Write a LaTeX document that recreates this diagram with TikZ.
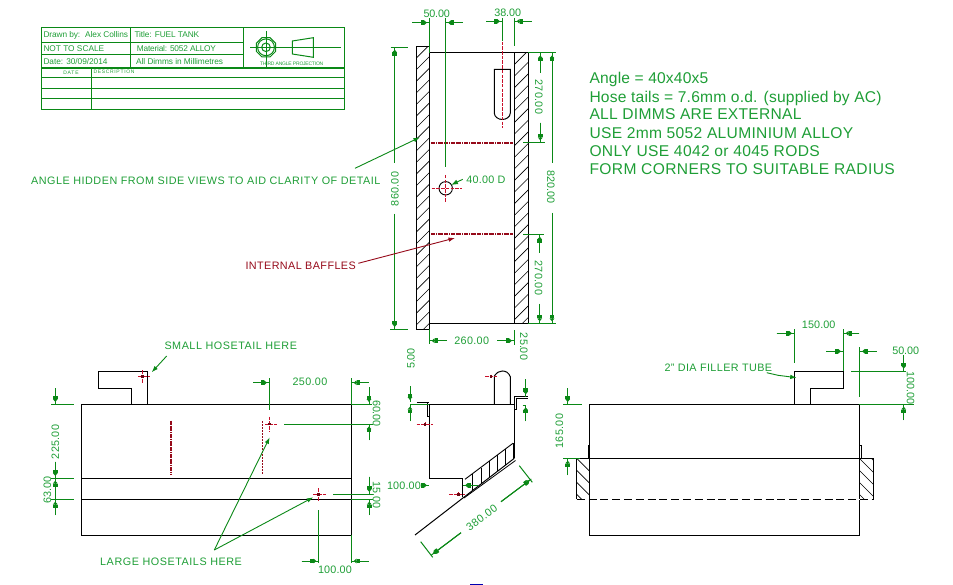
\documentclass[tikz,border=0pt]{standalone}
\usepackage{fontspec}
\usepackage{graphicx}
\usetikzlibrary{arrows.meta}
\setmainfont{Liberation Sans}
\definecolor{dimline}{HTML}{0A8816}
\definecolor{dimtext}{HTML}{1E9E36}
\definecolor{baffle}{HTML}{960A1A}
\definecolor{redline}{HTML}{C8102A}
\newlength\fitw
\ExplSyntaxOn
\NewDocumentCommand\fittext{mmm}{
  \fontsize{#2}{#2}\selectfont
  \settowidth\fitw{#3}
  \addfontfeature{LetterSpace=\fp_eval:n{round((#1-\fitw)/(\tl_count:n{#3}*#2)*100,2)}}
  #3
}
\ExplSyntaxOff
\tikzset{
  obj/.style={draw=black,line width=1pt,line cap=butt,line join=miter},
  dimc/.style={draw=dimline,line width=1pt},
  grid/.style={draw=dimline,line width=1pt},
  hatchline/.style={draw=black,line width=0.6pt},
  lead/.style={draw=dimline,line width=0.9pt,-{Latex[length=6.5pt,width=4.5pt]}},
  redc/.style={draw=redline,line width=0.9pt,dash pattern=on 3.5pt off 1.2pt},
  baff/.style={draw=baffle,line width=1.7pt,dash pattern=on 4pt off 0.8pt on 1pt off 0.8pt},
  txt/.style={inner sep=0pt,text=dimtext},
}
% dimension segment with the head set a little off the tip
\newcommand\dimseg[4]{%
  \draw[dimc] (#1,#2) -- (#3,#4);
  \draw[dimc,-{Rectangle[length=3.2pt,width=4.6pt]Triangle[length=2.8pt,width=4.6pt]},shorten >=2.4pt] (#1,#2) -- (#3,#4);}
% text: options, name, x, y, width, size, text
\newcommand\tx[7][]{%
  \pgfmathsetmacro\capht{0.72*#6}%
  \node[txt,text height=\capht pt,text depth=0pt,#1] (#2) at (#3,#4) {\fittext{#5}{#6}{#7}};}
\newcommand\crossmark[6]{%
  \draw[redc] (#3,#2) -- (#4,#2);
  \draw[redc] (#1,#5) -- (#1,#6);
  \fill[baffle!70!black] (#1-1.4,#2-1.4) rectangle (#1+1.4,#2+1.4);}
\newcommand\hatchup[6]{%
  \begin{scope}
  \clip (#1,#2) rectangle (#3,#4);
  \foreach \k in {0,...,#6}{\draw[hatchline] ({#1},{#2+\k*#5}) -- ({#3},{#2+\k*#5-(#3-#1)});}
  \end{scope}}
\newcommand\hatchdown[6]{%
  \begin{scope}
  \clip (#1,#2) rectangle (#3,#4);
  \foreach \k in {-2,...,#6}{\draw[hatchline] ({#1},{#2+\k*#5}) -- ({#3},{#2+\k*#5+(#3-#1)});}
  \end{scope}}
\begin{document}
\begin{tikzpicture}[x=1pt,y=-1pt]
\useasboundingbox (0,0) rectangle (953,585);

% ---------- title block
\draw[grid] (41.7,27.7) rectangle (344.3,109.3);
\draw[grid] (130.3,27.7) -- (130.3,67.3);
\draw[grid] (243.3,27.7) -- (243.3,67.3);
\draw[grid] (41.7,42.3) -- (243.3,42.3);
\draw[grid] (41.7,54.3) -- (243.3,54.3);
\draw[grid,line width=1.6pt] (41.7,68) -- (344.3,68);
\draw[grid] (41.7,77.3) -- (344.3,77.3);
\draw[grid] (41.7,88.3) -- (344.3,88.3);
\draw[grid] (41.7,98.7) -- (344.3,98.7);
\draw[grid] (91.3,68) -- (91.3,109.3);
\draw[grid] (250,47.3) -- (340.7,47.3);
\draw[grid] (266,31) -- (266,67);
\draw[grid] (266,47.3) circle (4.3);
\draw[grid] (266,47.3) circle (8.4);
\draw[grid] (256.3,43.3) -- (262,37.6) -- (270,37.6) -- (275.7,43.3) -- (275.7,51.3) -- (270,57) -- (262,57) -- (256.3,51.3) -- cycle;
\draw[grid] (292.3,41) -- (313.3,37.7) -- (313.3,57.3) -- (292.3,54) -- cycle;
\tx[anchor=west]{drawnby}{43.3}{34.3}{36.7}{8.3}{Drawn by:}
\tx[anchor=west]{drawnname}{85}{34.3}{42.7}{8.3}{Alex Collins}
\tx[anchor=west]{title}{134.3}{34.7}{64.7}{8.3}{Title:  FUEL TANK}
\tx[anchor=west]{scale}{43.3}{48.7}{60.7}{8.3}{NOT TO SCALE}
\tx[anchor=west]{material}{136.7}{48.7}{79}{8.3}{Material: 5052 ALLOY}
\tx[anchor=west]{date}{43.3}{62}{64}{8.3}{Date:  30/09/2014}
\tx[anchor=west]{dimmsin}{136}{62}{86.7}{8.3}{All  Dimms in Millimetres}
\tx{projection}{291.7}{64}{63}{5}{THIRD ANGLE PROJECTION}
\tx{datehead}{71}{72.3}{16}{5}{DATE}
\tx[anchor=west]{deschead}{93.3}{71.7}{41.7}{5}{DESCRIPTION}

% ---------- notes
\tx[anchor=west]{n1}{589.3}{77.7}{119}{15.6}{Angle = 40x40x5}
\tx[anchor=west]{n2}{589.3}{96.7}{292.3}{15.6}{Hose tails = 7.6mm o.d. (supplied by AC)}
\tx[anchor=west]{n3}{589.3}{114.3}{212.3}{15.6}{ALL DIMMS ARE EXTERNAL}
\tx[anchor=west]{n4}{589.3}{132.7}{264}{15.6}{USE 2mm 5052 ALUMINIUM ALLOY}
\tx[anchor=west]{n5}{589.3}{150.7}{230.7}{15.6}{ONLY USE 4042 or 4045 RODS}
\tx[anchor=west]{n6}{589.3}{169.3}{305.7}{15.6}{FORM CORNERS TO SUITABLE RADIUS}

% ---------- plan view
\hatchup{416.5}{46.3}{429.3}{329.3}{11.6}{27}
\hatchup{514.3}{53}{528.3}{323.7}{11.6}{26}
\draw[obj] (416.5,46.3) rectangle (429.3,329.3);
\draw[obj] (514.3,53) rectangle (528.3,323.7);
\draw[obj] (429.3,53) -- (514.3,53);
\draw[obj] (429.3,323.7) -- (514.3,323.7);
\draw[obj] (494.3,113) -- (494.3,69.3) -- (510.3,69.3) -- (510.3,113)
  .. controls (510.3,117) and (506,119.5) .. (502.3,119.5)
  .. controls (498.5,119.5) and (494.3,117) .. (494.3,113);
\draw[redc] (502.3,41.7) -- (502.3,128);
\draw[baff] (431,142.7) -- (513,142.7);
\draw[baff] (431,233.7) -- (513,233.7);
\draw[draw=black,line width=0.9pt] (445.7,188.3) circle (6.7);
\draw[redc] (431.7,188.3) -- (461.7,188.3);
\draw[redc] (445.7,175) -- (445.7,203);

% plan dimensions
\draw[dimc] (429.3,18) -- (429.3,53);
\draw[dimc] (445.7,18) -- (445.7,166.7);
\dimseg{412}{22.7}{429.3}{22.7}
\dimseg{462.7}{22.7}{445.7}{22.7}
\tx{d50a}{436.7}{14}{26}{10.8}{50.00}
\draw[dimc] (502.3,18) -- (502.3,41);
\draw[dimc] (514.3,18) -- (514.3,46);
\dimseg{486}{21.3}{502.3}{21.3}
\dimseg{531.7}{21.3}{514.3}{21.3}
\tx{d38}{507.7}{13}{26.7}{10.8}{38.00}
\draw[dimc] (390.7,47.3) -- (407.7,47.3);
\draw[dimc] (390,329.3) -- (408,329.3);
\dimseg{394.7}{163}{394.7}{47.3}
\dimseg{394.7}{214}{394.7}{329.3}
\tx[rotate=90]{d860}{394.7}{189}{34.3}{10.8}{860.00}
\draw[dimc] (528.3,53) -- (555.5,53);
\draw[dimc] (523.3,142.7) -- (545,142.7);
\dimseg{540.3}{72.7}{540.3}{53}
\dimseg{540.3}{122.7}{540.3}{142.7}
\tx[rotate=-90]{d270a}{539}{96.7}{35}{10.8}{270.00}
\dimseg{552}{163}{552}{53}
\dimseg{552}{213}{552}{323.7}
\tx[rotate=-90]{d820}{551}{187}{33}{10.8}{820.00}
\draw[dimc] (523.3,234.3) -- (544,234.3);
\draw[dimc] (528.3,323.7) -- (555.5,323.7);
\dimseg{539.7}{253}{539.7}{234.3}
\dimseg{539.7}{304}{539.7}{323.7}
\tx[rotate=-90]{d270b}{538.7}{277.7}{35}{10.8}{270.00}
\draw[dimc] (429.3,329.3) -- (429.3,344);
\draw[dimc] (514.3,330) -- (514.3,345);
\dimseg{446.7}{340.7}{429.3}{340.7}
\dimseg{497.3}{340.7}{514.3}{340.7}
\tx{d260}{471.7}{340.7}{35}{10.8}{260.00}
\tx[rotate=-90]{d25}{524}{346.5}{27}{10.8}{25.00}
\tx{d40}{486}{180}{39.3}{10.8}{40.00 D}
\draw[lead,-{Latex[length=7pt,width=5pt]}] (462.7,179.3) -- (451,185);

% leaders to plan
\tx[anchor=west]{angle}{31}{181}{349.7}{10.8}{ANGLE HIDDEN FROM SIDE VIEWS TO AID CLARITY OF DETAIL}
\draw[lead] (355,168.3) -- (420,137.3);
\tx[anchor=west,text=baffle]{intern}{245.3}{266}{110.7}{10.8}{INTERNAL BAFFLES}
\draw[draw=baffle,line width=0.9pt,-{Latex[length=6.5pt,width=4.5pt]}] (358.3,263.3) -- (455,238);

% ---------- front view
\draw[obj] (81.3,404.3) rectangle (351.3,535.3);
\draw[obj] (81.3,478.3) -- (351.3,478.3);
\draw[obj] (81.3,499.3) -- (351.3,499.3);
\draw[obj] (131.3,404.3) -- (131.3,388.3) -- (98.3,388.3) -- (98.3,371.3) -- (147.7,371.3) -- (147.7,404.3);
\crossmark{142.7}{376.7}{138.3}{150}{370}{384}
\draw[baff] (170.7,420.7) -- (170.7,475);
\crossmark{269.3}{424}{265}{277.3}{416.7}{431.7}
\draw[draw=baffle,line width=0.8pt,dash pattern=on 2pt off 1pt] (262.3,421) -- (262.3,475);
\crossmark{318.7}{494.3}{313.3}{326}{488}{501.7}

\tx[anchor=west]{small}{164.3}{346}{133}{10.8}{SMALL HOSETAIL HERE}
\draw[lead] (166.7,356) -- (151.7,372.3);
\tx[anchor=west]{large}{100}{561.7}{142.3}{10.8}{LARGE HOSETAILS HERE}
\coordinate (apex) at (214.3,550);
\draw[lead] (apex) -- (269.7,437.3);
\draw[lead] (apex) -- (313.3,497.3);

% front dimensions
\draw[dimc] (51,404.3) -- (74,404.3);
\draw[dimc] (51,478.3) -- (74,478.3);
\draw[dimc] (51,499.3) -- (74,499.3);
\dimseg{55.3}{388.3}{55.3}{404.3}
\dimseg{55.3}{461.7}{55.3}{478.3}
\dimseg{55.3}{490}{55.3}{478.3}
\dimseg{55.3}{515}{55.3}{499.3}
\draw[dimc] (55.3,490) -- (55.3,499.3);
\tx[rotate=90]{d225}{55.3}{442}{34.3}{10.8}{225.00}
\tx[rotate=90]{d63}{47.3}{490}{27}{10.8}{63.00}
\draw[dimc] (269.3,378.3) -- (269.3,410);
\draw[dimc] (351.3,378.3) -- (351.3,404.3);
\dimseg{253.3}{382.7}{269.3}{382.7}
\dimseg{368.7}{382.7}{351.3}{382.7}
\tx{d250}{310}{382}{35}{10.8}{250.00}
\draw[dimc] (351.3,404.3) -- (371.7,404.3);
\draw[dimc] (284,424) -- (373,424);
\dimseg{369}{387.3}{369}{404.3}
\dimseg{369}{440}{369}{424}
\tx[rotate=-90]{d60}{376.7}{413.3}{26}{10.8}{60.00}
\draw[dimc] (333.3,494.3) -- (373,494.3);
\draw[dimc] (351.3,499.3) -- (373,499.3);
\dimseg{369.3}{476.7}{369.3}{494.3}
\dimseg{369.3}{515}{369.3}{499.3}
\tx[rotate=-90]{d15}{376.7}{495}{26.7}{10.8}{15.00}
\draw[dimc] (318.7,510) -- (318.7,563);
\draw[dimc] (351.3,535.3) -- (351.3,563.3);
\dimseg{301.7}{561}{318.7}{561}
\dimseg{368.7}{561}{351.3}{561}
\tx{d100a}{335}{569.3}{34}{10.8}{100.00}

% ---------- side section
\draw[obj] (429.3,404.3) -- (514.3,404.3) -- (514.3,458.3);
\draw[obj] (429.3,404.3) -- (429.3,478.3) -- (462.7,478.3) -- (462.7,497);
\draw[obj] (415,535) -- (514.3,458.3);
\draw[obj,line width=0.8pt] (464,498) -- (515.5,460.5);
\draw[obj,line width=0.9pt] (465,479.3) -- (513,443.3);
\foreach \xa/\ya/\yb in {472.7/473.7/490, 481/467.5/483.8, 489.3/461.2/477.4, 497.3/455.2/471.2, 505.7/449/464.8}{
  \draw[obj,line width=0.9pt] (\xa,\ya) -- (\xa,\yb);}
\draw[obj,line width=0.9pt] (513.2,443.3) -- (513.2,459);
% angle flanges
\draw[obj] (416.7,402.3) -- (429.3,402.3);
\draw[obj,line width=0.8pt] (427,402.3) -- (427,416.7) -- (429.3,416.7);
\draw[obj] (514.3,409.3) -- (516.7,409.3) -- (516.7,398.5) -- (528.3,398.5);
\draw[obj] (514.3,404.3) -- (514.3,396.7) -- (528.3,396.7);
% hosetail
\draw[obj] (494.3,404.3) -- (494.3,376)
  .. controls (497,372.5) and (499,371) .. (502.3,371)
  .. controls (506,371) and (508.5,372.5) .. (510.3,376.7) -- (510.3,404.3);
\crossmark{491}{376.7}{485}{496.7}{374.5}{379}
\crossmark{425}{424.3}{416.7}{433.3}{422}{426.7}
\crossmark{458.3}{494.3}{449}{465}{492}{496.6}

% side dimensions
\draw[dimc] (410.7,404.3) -- (429.3,404.3);
\dimseg{410}{386}{410}{402.3}
\dimseg{410}{421}{410}{404.3}
\tx[rotate=90]{d5}{410.7}{358.5}{19}{10.8}{5.00}
\dimseg{525.7}{379.3}{525.7}{396.7}
\dimseg{525.7}{421}{525.7}{405}
\draw[dimc] (522.5,405) -- (525.7,405);
\tx{d100b}{404}{485.3}{34}{10.8}{100.00}
\dimseg{420.7}{485.3}{429.3}{485.3}
\dimseg{478}{485.3}{462.7}{485.3}
\draw[dimc] (420.7,541.7) -- (432.7,557.3);
\draw[dimc] (519.3,465.7) -- (532.3,482.3);
\dimseg{461}{532.7}{431.2}{555.2}
\dimseg{501}{501.7}{531.3}{479}
\tx[rotate=36]{d380}{481.7}{517.7}{36}{10.8}{380.00}

% ---------- end view
\hatchdown{576.7}{458.3}{589.3}{499.3}{12}{4}
\hatchdown{859.3}{458.3}{873.7}{499.3}{12}{4}
\draw[obj] (589.3,404.3) rectangle (859.3,535.3);
\draw[obj] (576.7,458) -- (873.7,458);
\draw[obj] (576.7,458) -- (576.7,499.3);
\draw[obj] (873.7,458) -- (873.7,499.3);
\draw[draw=white,line width=1.4pt] (578,499.3) -- (872.5,499.3);
\draw[obj,dash pattern=on 8pt off 3.8pt] (576.7,499.3) -- (873.7,499.3);
\draw[obj,line width=1.5pt] (588.7,445) -- (588.7,458);
\draw[obj,line width=0.8pt] (859.3,445) -- (861.7,445) -- (861.7,458);
\draw[obj] (794.3,404.3) -- (794.3,371) -- (843.3,371) -- (843.3,388.3) -- (810.3,388.3) -- (810.3,404.3);

\tx[anchor=west]{filler}{664.3}{367.7}{108}{10.8}{2" DIA FILLER TUBE}
\draw[lead] (766.7,372.7) -- (778,375.3) -- (796.7,377.7);

% end dimensions
\draw[dimc] (794.3,329.3) -- (794.3,363.3);
\draw[dimc] (843.3,329.3) -- (843.3,371);
\dimseg{776.7}{333.3}{794.3}{333.3}
\dimseg{859.3}{333.3}{843.3}{333.3}
\tx{d150}{818.7}{325}{33.7}{10.8}{150.00}
\draw[dimc] (859.7,347.3) -- (859.7,396.7);
\dimseg{826}{351.3}{843.3}{351.3}
\dimseg{876.7}{351.3}{859.7}{351.3}
\tx{d50b}{905.7}{351}{26.7}{10.8}{50.00}
\draw[dimc] (851,371) -- (906,371);
\draw[dimc] (859.3,404.3) -- (914,404.3);
\dimseg{903.7}{355}{903.7}{371}
\dimseg{903.7}{420}{903.7}{404.3}
\tx[rotate=-90]{d100c}{910.7}{388}{34}{10.8}{100.00}
\draw[dimc] (563.3,404.3) -- (581.7,404.3);
\draw[dimc] (563.3,458.3) -- (580,458.3);
\dimseg{567.7}{388.3}{567.7}{404.3}
\dimseg{567.7}{475}{567.7}{458.3}
\tx[rotate=90]{d165}{559.3}{431}{35}{10.8}{165.00}

% bottom edge mark
\fill[blue!70!black] (470,583.6) rectangle (483,585);
\end{tikzpicture}
\end{document}
